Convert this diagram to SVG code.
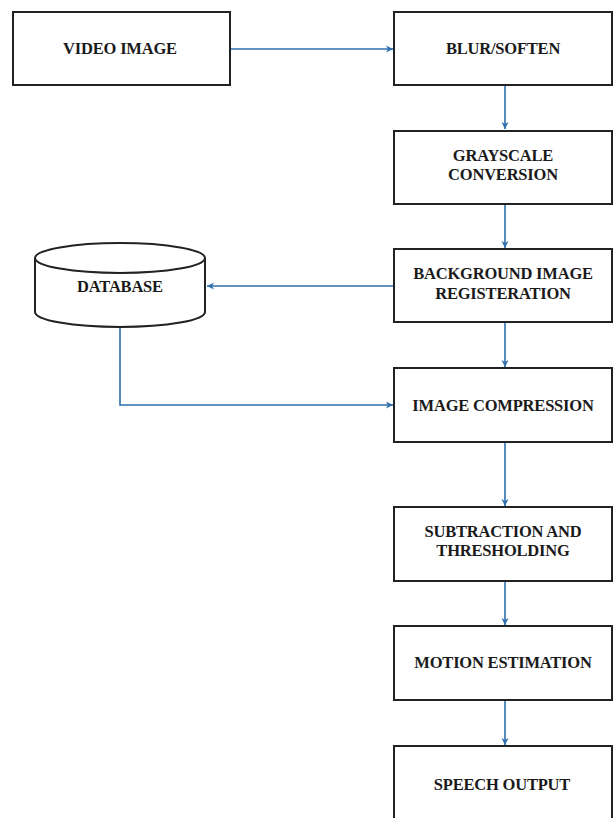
<svg xmlns="http://www.w3.org/2000/svg" width="614" height="818" viewBox="0 0 614 818">
<style>
.box{fill:#fff;stroke:#222;stroke-width:2}
.t{font-family:"Liberation Serif","Times New Roman",serif;font-weight:bold;font-size:16.5px;fill:#1a1a1a;text-anchor:middle;letter-spacing:-0.2px}
.c{fill:none;stroke:#2e6fae;stroke-width:1.6}
</style>
<defs>
<marker id="ah" markerWidth="8" markerHeight="8" refX="7" refY="4" orient="auto" markerUnits="userSpaceOnUse">
<path d="M0,0.5 L7,4 L0,7.5 L2,4 Z" fill="#2e6fae"/>
</marker>
</defs>
<rect width="614" height="818" fill="#fff"/>
<g id="connectors">
<path class="c" d="M230,49 H393" marker-end="url(#ah)"/>
<path class="c" d="M505,85 V129" marker-end="url(#ah)"/>
<path class="c" d="M505,204 V248" marker-end="url(#ah)"/>
<path class="c" d="M394,286 H207" marker-end="url(#ah)"/>
<path class="c" d="M505,322 V367" marker-end="url(#ah)"/>
<path class="c" d="M120,327 V405 H393" marker-end="url(#ah)"/>
<path class="c" d="M505,442 V506" marker-end="url(#ah)"/>
<path class="c" d="M505,581 V625" marker-end="url(#ah)"/>
<path class="c" d="M505,700 V745" marker-end="url(#ah)"/>
</g>
<g id="video">
<rect class="box" x="13" y="12" width="217" height="73"/>
<text class="t" x="120" y="54">VIDEO IMAGE</text>
</g>
<g id="blur">
<rect class="box" x="394" y="12" width="218" height="73"/>
<text class="t" x="503" y="54">BLUR/SOFTEN</text>
</g>
<g id="grayscale">
<rect class="box" x="394" y="131" width="218" height="73"/>
<text class="t" x="503" y="161">GRAYSCALE</text>
<text class="t" x="503" y="180">CONVERSION</text>
</g>
<g id="background">
<rect class="box" x="394" y="249" width="218" height="73"/>
<text class="t" x="503" y="279">BACKGROUND IMAGE</text>
<text class="t" x="503" y="299">REGISTERATION</text>
</g>
<g id="database">
<path class="box" d="M35,258 V312 A85,15 0 0 0 205,312 V258"/>
<ellipse class="box" cx="120" cy="258" rx="85" ry="15"/>
<text class="t" x="120" y="292">DATABASE</text>
</g>
<g id="compression">
<rect class="box" x="394" y="368" width="218" height="74"/>
<text class="t" x="503" y="411">IMAGE COMPRESSION</text>
</g>
<g id="subtraction">
<rect class="box" x="394" y="507" width="218" height="74"/>
<text class="t" x="503" y="537">SUBTRACTION AND</text>
<text class="t" x="503" y="556">THRESHOLDING</text>
</g>
<g id="motion">
<rect class="box" x="394" y="626" width="218" height="74"/>
<text class="t" x="503" y="668">MOTION ESTIMATION</text>
</g>
<g id="speech">
<rect class="box" x="394" y="746" width="218" height="80"/>
<text class="t" x="502" y="790">SPEECH OUTPUT</text>
</g>
</svg>
